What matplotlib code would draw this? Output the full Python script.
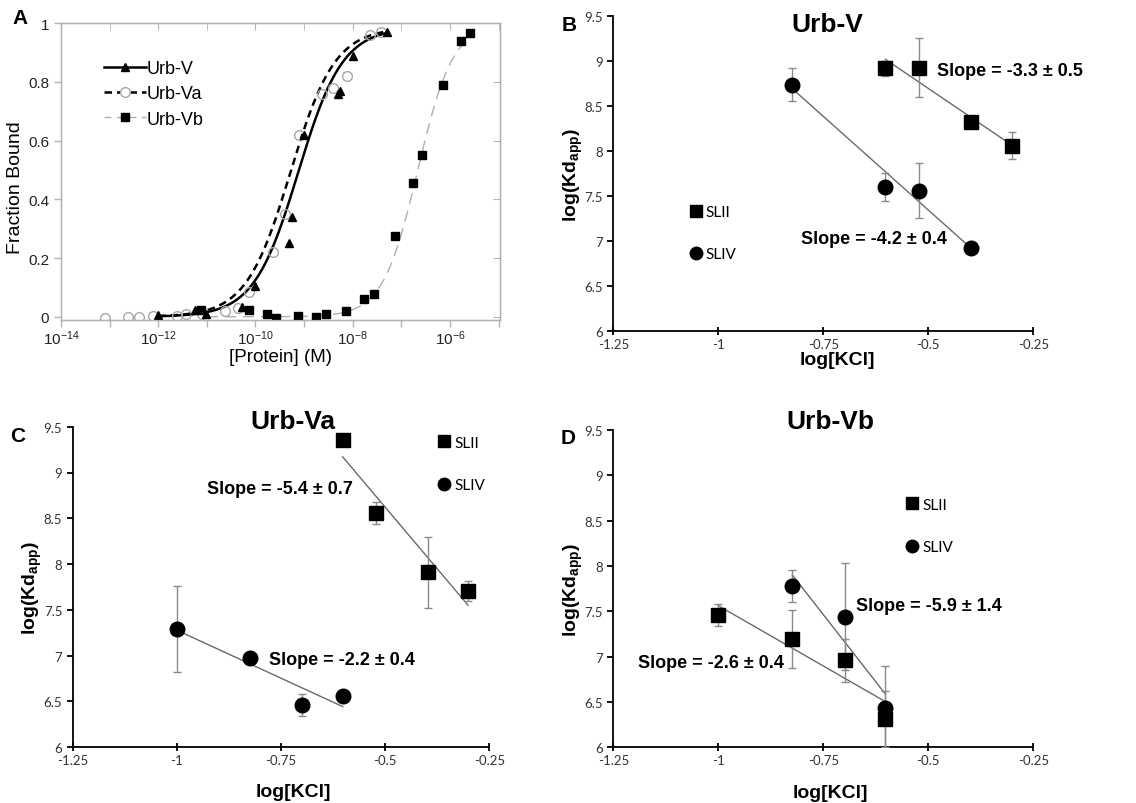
import numpy as np
import matplotlib
matplotlib.use('Agg')
import matplotlib.pyplot as plt
from matplotlib.lines import Line2D
from matplotlib.ticker import FixedLocator, NullFormatter, FixedFormatter

plt.rcParams['font.family'] = 'Liberation Sans'
plt.rcParams['mathtext.fontset'] = 'custom'
plt.rcParams['mathtext.rm'] = 'Liberation Sans'
plt.rcParams['mathtext.bf'] = 'Liberation Sans:bold'
plt.rcParams['axes.unicode_minus'] = False

# -----------------------------
# Panel A: fraction bound vs log10 [protein]
# -----------------------------
v_logc = [-12.0, -11.25, -11.01, -10.27, -10.01, -9.31, -9.25, -9.0, -8.30, -8.27, -8.0, -7.29]
v_frac = [0.005, 0.023, 0.008, 0.034, 0.105, 0.25, 0.34, 0.62, 0.76, 0.77, 0.89, 0.97]
va_logc = [-13.10, -12.62, -12.39, -12.10, -11.62, -11.42, -11.09, -10.63, -10.36,
           -10.13, -9.64, -9.40, -9.11, -8.64, -8.40, -8.11, -7.64, -7.41]
va_frac = [-0.003, 0.0, 0.0, 0.003, 0.003, 0.008, 0.008, 0.02, 0.03,
           0.085, 0.22, 0.35, 0.62, 0.76, 0.78, 0.82, 0.96, 0.97]
vb_logc = [-11.12, -10.13, -9.77, -9.57, -9.12, -8.76, -8.55, -8.13,
           -7.77, -7.56, -7.14, -6.76, -6.57, -6.14, -5.77, -5.58]
vb_frac = [0.023, 0.023, 0.009, -0.003, 0.003, -0.002, 0.009, 0.019,
           0.059, 0.079, 0.274, 0.456, 0.55, 0.79, 0.94, 0.966]

# Hill fit parameters: log10(Kd), Hill n, plateau, fit range
v_hill = (-9.12, 0.95, 0.985, -12.0, -7.28)
va_hill = (-9.28, 0.95, 0.985, -12.0, -7.30)
vb_hill = (-6.66, 1.2, 1.0, -11.0, -5.58)

# -----------------------------
# Panels B-D: log(Kd_app) vs log[KCl]
# -----------------------------
kcl_labels = [-1.25, -1.0, -0.75, -0.5, -0.25]
kd_labels = [6, 6.5, 7, 7.5, 8, 8.5, 9, 9.5]

# B: Urb-V
b_sq_kcl = [0.25, 0.30, 0.40, 0.50]
b_sq_kd = [8.92, 8.93, 8.32, 8.06]
b_sq_err = [0.08, 0.33, 0.06, 0.15]
b_ci_kcl = [0.15, 0.25, 0.30, 0.40]
b_ci_kd = [8.74, 7.60, 7.56, 6.92]
b_ci_err = [0.18, 0.16, 0.31, 0.04]

# C: Urb-Va
c_sq_kcl = [0.25, 0.30, 0.40, 0.50]
c_sq_kd = [9.36, 8.56, 7.91, 7.71]
c_sq_err = [0.02, 0.12, 0.39, 0.11]
c_ci_kcl = [0.10, 0.15, 0.20, 0.25]
c_ci_kd = [7.29, 6.97, 6.46, 6.56]
c_ci_err = [0.47, 0.02, 0.12, 0.03]

# D: Urb-Vb
d_sq_kcl = [0.10, 0.15, 0.20, 0.25]
d_sq_kd = [7.46, 7.19, 6.96, 6.31]
d_sq_err = [0.12, 0.32, 0.24, 0.31]
d_ci_kcl = [0.15, 0.20, 0.25]
d_ci_kd = [7.78, 7.44, 6.43]
d_ci_err = [0.18, 0.59, 0.47]


def hill(logc, logk, n, top):
    return top / (1 + 10 ** (n * (logk - logc)))


fig = plt.figure(figsize=(11.36, 8.04), dpi=100)
W, H = 1136, 804


def rect(left, top, right, bottom):
    return [left / W, 1 - bottom / H, (right - left) / W, (bottom - top) / H]


# -----------------------------
# Panel A
# -----------------------------
axA = fig.add_axes(rect(61, 24.3, 500, 320.7))
frame = '#b4b4b4'
for name, hp in (('Urb-V', v_hill), ('Urb-Va', va_hill), ('Urb-Vb', vb_hill)):
    logk, n, top, lo, hi = hp
    xs = np.linspace(lo, hi, 300)
    if name == 'Urb-V':
        axA.plot(10 ** xs, hill(xs, logk, n, top), color='black', lw=1.8, zorder=3)
    elif name == 'Urb-Va':
        axA.plot(10 ** xs, hill(xs, logk, n, top), color='black', lw=1.8,
                 dashes=(3, 2), zorder=3)
    else:
        axA.plot(10 ** xs, hill(xs, logk, n, top), color='#b0b0b0', lw=1.0,
                 dashes=(8, 5), zorder=2)

axA.plot(10 ** np.array(va_logc), va_frac, 'o', ms=7, mfc='none', mec='#a8a8a8',
         mew=1.0, zorder=4)
axA.plot(10 ** np.array(vb_logc), vb_frac, 's', ms=5.5, color='black', zorder=4)
axA.plot(10 ** np.array(v_logc), v_frac, '^', ms=5.5, color='black', zorder=5)

axA.set_xscale('log')
axA.set_xlim(1e-14, 10 ** -4.97)
axA.set_ylim(-0.01, 1.0)
axA.xaxis.set_major_locator(FixedLocator([1e-14, 1e-12, 1e-10, 1e-8, 1e-6]))
axA.xaxis.set_major_formatter(FixedFormatter(
    [r'$\mathregular{10^{-14}}$', r'$\mathregular{10^{-12}}$', r'$\mathregular{10^{-10}}$',
     r'$\mathregular{10^{-8}}$', r'$\mathregular{10^{-6}}$']))
axA.xaxis.set_minor_locator(FixedLocator([1e-13, 1e-11, 1e-9, 1e-7, 1e-5]))
axA.xaxis.set_minor_formatter(NullFormatter())
axA.set_yticks([0, 0.2, 0.4, 0.6, 0.8, 1.0])
axA.set_yticklabels(['0', '0.2', '0.4', '0.6', '0.8', '1'])
for sp in axA.spines.values():
    sp.set_color(frame)
    sp.set_linewidth(1.0)
axA.tick_params(which='both', direction='out', color=frame, length=5, width=1,
                labelsize=11, labelcolor='#222222')
axA.tick_params(axis='x', pad=1, labelsize=11)

# inward ticks on the top and right edges
axT = axA.twiny()
axT.set_xscale('log')
axT.set_xlim(axA.get_xlim())
axT.xaxis.set_major_locator(FixedLocator([1e-14, 1e-12, 1e-10, 1e-8, 1e-6]))
axT.xaxis.set_minor_locator(FixedLocator([1e-13, 1e-11, 1e-9, 1e-7, 1e-5]))
axT.tick_params(which='both', direction='in', color=frame, length=5, labeltop=False)
axR = axA.twinx()
axR.set_ylim(axA.get_ylim())
axR.set_yticks([0, 0.2, 0.4, 0.6, 0.8, 1.0])
axR.tick_params(direction='in', color=frame, length=5, labelright=False)
for a in (axT, axR):
    for sp in a.spines.values():
        sp.set_color(frame)

axA.set_xlabel('[Protein] (M)', fontsize=13.5)
axA.xaxis.set_label_coords(0.499, -0.095)
axA.set_ylabel('Fraction Bound', fontsize=14)
axA.yaxis.set_label_coords(-0.085, 0.45)

handles = [
    Line2D([], [], color='black', lw=1.8, marker='^', ms=5.5),
    Line2D([], [], color='black', lw=1.8, dashes=(3, 2), marker='o', ms=7,
           mfc='white', mec='#a8a8a8'),
    Line2D([], [], color='#b0b0b0', lw=1.0, dashes=(5, 4), marker='s', ms=5.5,
           mfc='black', mec='black'),
]
axR.legend(handles, ['Urb-V', 'Urb-Va', 'Urb-Vb'], loc='upper left',
           bbox_to_anchor=(0.062, 0.93), frameon=False, fontsize=13,
           handlelength=2.3, handletextpad=0.05, labelspacing=0.45)


# -----------------------------
# Panels B-D
# -----------------------------
def salt_panel(box, sq_kcl, sq_kd, sq_err, ci_kcl, ci_kd, ci_err,
               title, title_xy, leg_xy, slopes, xlab_xy, ylab_xy):
    ax = fig.add_axes(rect(*box))
    for kcl, kd, err, mk in ((sq_kcl, sq_kd, sq_err, 's'), (ci_kcl, ci_kd, ci_err, 'o')):
        x = np.log10(kcl)
        y = np.array(kd)
        k, b0 = np.polyfit(x, y, 1)
        xl = np.array([x.min(), x.max()])
        ax.plot(xl, k * xl + b0, color='#6a6a6a', lw=1.0, zorder=2)
        ax.errorbar(x, y, yerr=err, fmt=mk, ms=10 if mk == 's' else 10.5,
                    color='black', ecolor='#8a8a8a', elinewidth=1.0, capsize=3,
                    capthick=1.0, zorder=3)
    ax.set_xlim(-1.25, -0.25)
    ax.set_ylim(6, 9.5)
    ax.set_xticks(kcl_labels)
    ax.set_xticklabels(['%g' % v for v in kcl_labels])
    ax.set_yticks(kd_labels)
    ax.set_yticklabels(['%g' % v for v in kd_labels])
    for s in ('top', 'right'):
        ax.spines[s].set_visible(False)
    for s in ('left', 'bottom'):
        ax.spines[s].set_linewidth(1.3)
    ax.tick_params(axis='y', direction='out', length=4, width=1.3)
    ax.tick_params(axis='x', direction='inout', length=6, width=1.3, pad=2)
    for lab in ax.get_xticklabels() + ax.get_yticklabels():
        lab.set_fontfamily('Lato')
        lab.set_fontsize(9.5)
        lab.set_color('#333333')
    ax.set_xlabel('log[KCl]', fontsize=14, fontweight='bold')
    ax.xaxis.set_label_coords(*xlab_xy)
    ax.set_ylabel(r'log(Kd$_{\mathregular{app}}$)', fontsize=14, fontweight='bold')
    ax.yaxis.set_label_coords(*ylab_xy)
    ax.text(title_xy[0], title_xy[1], title, transform=ax.transAxes, ha='center',
            va='center', fontsize=19, fontweight='bold')
    for (sx, sy, txt) in slopes:
        ax.text(sx, sy, txt, ha='left', va='center', fontsize=13, fontweight='bold')
    hs = [Line2D([], [], ls='none', marker='s', ms=8, color='black'),
          Line2D([], [], ls='none', marker='o', ms=9, color='black')]
    ax.legend(hs, ['SLII', 'SLIV'], loc='center left', bbox_to_anchor=leg_xy,
              frameon=False, prop={'family': 'Lato', 'size': 11},
              handlelength=0.8, handletextpad=0.25, labelspacing=1.85,
              borderpad=0.4)
    return ax


axB = salt_panel((613.3, 17.3, 1033.3, 331.7), b_sq_kcl, b_sq_kd, b_sq_err,
                 b_ci_kcl, b_ci_kd, b_ci_err, 'Urb-V', (0.509, 0.975),
                 (0.149, 0.31),
                 [(-0.479, 8.9, 'Slope = -3.3 ± 0.5'), (-0.804, 7.03, 'Slope = -4.2 ± 0.4')],
                 (0.533, -0.065), (-0.068, 0.5))
axC = salt_panel((72.7, 427.7, 489.3, 748.3), c_sq_kcl, c_sq_kd, c_sq_err,
                 c_ci_kcl, c_ci_kd, c_ci_err, 'Urb-Va', (0.529, 1.019),
                 (0.844, 0.884),
                 [(-0.928, 8.82, 'Slope = -5.4 ± 0.7'), (-0.780, 6.96, 'Slope = -2.2 ± 0.4')],
                 (0.529, -0.111), (-0.069, 0.5))
axD = salt_panel((613.3, 431, 1033.3, 748.3), d_sq_kcl, d_sq_kd, d_sq_err,
                 d_ci_kcl, d_ci_kd, d_ci_err, 'Urb-Vb', (0.516, 1.029),
                 (0.664, 0.698),
                 [(-0.672, 7.56, 'Slope = -5.9 ± 1.4'), (-1.192, 6.94, 'Slope = -2.6 ± 0.4')],
                 (0.516, -0.116), (-0.068, 0.5))

# panel letters
for letter, px, py in (('A', 12, 24), ('B', 562, 31), ('C', 10, 442), ('D', 561, 444)):
    fig.text(px / W, 1 - py / H, letter, fontsize=15, fontweight='bold',
             ha='left', va='baseline')

fig.savefig('out.png', dpi=100)
